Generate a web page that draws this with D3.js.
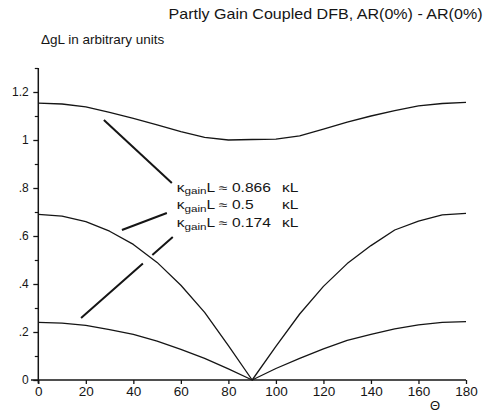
<!DOCTYPE html>
<html>
<head>
<meta charset="utf-8">
<script src="https://cdn.jsdelivr.net/npm/d3@7"></script>
<style>
  html, body { margin: 0; padding: 0; background: #fff; }
  svg { display: block; font-family: "Liberation Sans", Arial, sans-serif; }
</style>
</head>
<body>
<svg id="chart" width="487" height="415"></svg>
<script>
// Angle Θ (degrees) at which the threshold gain difference was evaluated
const theta = [0, 10, 20, 30, 40, 50, 60, 70, 80, 90, 100, 110, 120, 130, 140, 150, 160, 170, 180];

// ΔgL for the three gain-coupling ratios κgainL / κL
const dgl0866 = [1.154, 1.150, 1.138, 1.115, 1.090, 1.063, 1.035, 1.011, 1.000, 1.002,
                 1.004, 1.017, 1.045, 1.074, 1.100, 1.122, 1.142, 1.152, 1.157];
const dgl05   = [0.690, 0.683, 0.660, 0.620, 0.565, 0.490, 0.395, 0.282, 0.143, 0.000,
                 0.140, 0.275, 0.390, 0.485, 0.560, 0.625, 0.662, 0.688, 0.694];
const dgl0174 = [0.240, 0.237, 0.228, 0.210, 0.190, 0.162, 0.128, 0.090, 0.046, 0.000,
                 0.048, 0.090, 0.130, 0.165, 0.190, 0.213, 0.230, 0.240, 0.243];

// Axis ticks
const xTicks = [0, 20, 40, 60, 80, 100, 120, 140, 160, 180];
const yTicks = [0, 0.2, 0.4, 0.6, 0.8, 1.0, 1.2];
const yTickLabels = ["0", ".2", ".4", ".6", ".8", "1", "1.2"];
const yMinorTicks = [0.1, 0.3, 0.5, 0.7, 0.9, 1.1, 1.3];

// Curve labels: ratio text and the leader line (from → to, in Θ / ΔgL units)
const labelValues = ["0.866", "0.5", "0.174"];
const leaderFrom = [[27.6, 1.083], [35.2, 0.625], [18.0, 0.258]];
const leaderTo   = [[56.2, 0.821], [54.1, 0.696], [56.6, 0.596]];

const svg = d3.select("#chart");
const x = d3.scaleLinear().domain([0, 180]).range([38.3, 466]);
const y = d3.scaleLinear().domain([0, 1.3]).range([380, 68]);
const ink = "#151515";

// Title and y-axis caption
svg.append("text")
  .attr("x", 482.5).attr("y", 18.5)
  .attr("text-anchor", "end")
  .attr("font-size", 15)
  .attr("textLength", 314).attr("lengthAdjust", "spacingAndGlyphs")
  .attr("fill", ink)
  .text("Partly Gain Coupled DFB, AR(0%) - AR(0%)");

svg.append("text")
  .attr("x", 41).attr("y", 43.5)
  .attr("font-size", 13.5)
  .attr("fill", ink)
  .text("ΔgL in arbitrary units");

// Curves
const line = d3.line()
  .x((d, i) => x(theta[i]))
  .y(d => y(d))
  .curve(d3.curveLinear);

[dgl0866, dgl05, dgl0174].forEach(series => {
  svg.append("path")
    .datum(series)
    .attr("d", line)
    .attr("fill", "none")
    .attr("stroke", ink)
    .attr("stroke-width", 1.3)
    .attr("stroke-linejoin", "round");
});

// Leader lines from the labels to the curves
leaderFrom.forEach((p, i) => {
  const q = leaderTo[i];
  const l = svg.append("line")
    .attr("x1", x(p[0])).attr("y1", y(p[1]))
    .attr("x2", x(q[0])).attr("y2", y(q[1]))
    .attr("stroke", ink)
    .attr("stroke-width", 2);
  if (i === 2) {
    // the lowest leader is broken where it crosses the κgainL = 0.5 κL curve
    const len = Math.hypot(x(q[0]) - x(p[0]), y(q[1]) - y(p[1]));
    const a = 0.674 * len, b = 0.777 * len;
    l.attr("stroke-dasharray", `${a} ${b - a} ${len - b} 0`);
  }
});

// Curve labels, typeset slightly wide
const baselines = [191.5, 209.3, 227];
labelValues.forEach((v, i) => {
  const g = svg.append("g")
    .attr("transform", `translate(176.7,${baselines[i]}) scale(1.3,1)`)
    .attr("fill", ink)
    .attr("font-size", 12);
  const t = g.append("text").attr("x", 0).attr("y", 0);
  t.append("tspan").text("κ");
  t.append("tspan").attr("font-size", 9).attr("dy", 2.6).text("gain");
  t.append("tspan").attr("dy", -2.6).text("L ≈ " + v);
  g.append("text").attr("x", 81).attr("y", 0).text("κL");
});

// Axes
const xAxis = d3.axisBottom(x).tickValues(xTicks).tickSize(4).tickSizeOuter(0).tickPadding(2);
const gx = svg.append("g").attr("transform", "translate(0,380)").call(xAxis);
gx.select(".domain").remove();
gx.append("line").attr("x1", 31).attr("x2", x(180)).attr("y1", 0).attr("y2", 0)
  .attr("stroke", ink).attr("stroke-width", 1.5);
gx.selectAll(".tick line").attr("stroke", ink).attr("stroke-width", 1.3);
gx.selectAll(".tick text")
  .attr("font-family", "'Liberation Sans', Arial, sans-serif")
  .attr("font-size", 13.5).attr("fill", ink);

const yAxis = d3.axisLeft(y).tickValues(yTicks)
  .tickFormat((d, i) => yTickLabels[i]).tickSize(5).tickSizeOuter(0).tickPadding(4.5);
const gy = svg.append("g").attr("transform", "translate(38.3,0)").call(yAxis);
gy.select(".domain").remove();
gy.append("line").attr("x1", 0).attr("x2", 0).attr("y1", y(1.3)).attr("y2", 383.5)
  .attr("stroke", ink).attr("stroke-width", 1.5);
gy.selectAll(".tick line").attr("stroke", ink).attr("stroke-width", 1.3);
gy.selectAll(".tick text")
  .attr("font-family", "'Liberation Sans', Arial, sans-serif")
  .attr("font-size", 12).attr("fill", ink);

const yMinor = d3.axisLeft(y).tickValues(yMinorTicks).tickSize(3.5).tickSizeOuter(0).tickFormat("");
const gym = svg.append("g").attr("transform", "translate(38.3,0)").call(yMinor);
gym.select(".domain").remove();
gym.selectAll(".tick line").attr("stroke", ink).attr("stroke-width", 1.2);

// x-axis variable
svg.append("text")
  .attr("x", 435).attr("y", 410)
  .attr("text-anchor", "middle")
  .attr("font-size", 13)
  .attr("fill", ink)
  .text("Θ");
</script>
</body>
</html>
